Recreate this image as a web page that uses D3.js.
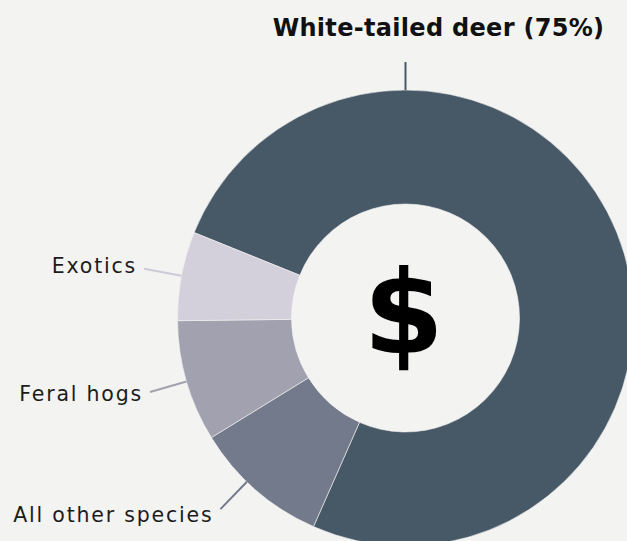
<!DOCTYPE html>
<html>
<head>
<meta charset="utf-8">
<script src="https://cdn.jsdelivr.net/npm/d3@7"></script>
<style>
  html, body { margin: 0; padding: 0; background: #f3f3f1; }
  svg { display: block; }
</style>
</head>
<body>
<div id="chart"></div>
<script>
  // shares of hunting spend
  var species = ["White-tailed deer", "All other species", "Feral hogs", "Exotics"]
  var shares = [75.5, 9.6, 8.6, 6.3]
  var labels = ["White-tailed deer (75%)", "All other species", "Feral hogs", "Exotics"]
  var colors = ["#475867", "#737a8b", "#a2a1b0", "#d3cfdb"]
  var lineColors = ["#475867", "#737a8b", "#a2a1b0", "#cfcad8"]

  var width = 627
  var height = 541
  var cx = 405.5, cy = 318
  var outerR = 228, innerR = 114
  var startAngle = -68 * Math.PI / 180
  var labelNudge = [0, 3, 0, 0] // degrees, hand tweak of leader angle

  var data = species.map(function(s, i){
    return { name: s, value: shares[i], label: labels[i], color: colors[i], lineColor: lineColors[i], nudge: labelNudge[i] }
  })

  var svg = d3.select("#chart")
    .append("svg")
      .attr("width", width)
      .attr("height", height)

  var g = svg.append("g")
    .attr("transform", "translate(" + cx + "," + cy + ")")

  var pie = d3.pie()
    .sort(null)
    .value(function(d){ return d.value })
    .startAngle(startAngle)
    .endAngle(startAngle + 2 * Math.PI)

  var arc = d3.arc()
    .innerRadius(innerR)
    .outerRadius(outerR)

  var arcs = pie(data)

  g.selectAll(".slice")
      .data(arcs)
      .enter()
    .append("path")
      .attr("class", "slice")
      .attr("d", arc)
      .attr("fill", function(d){ return d.data.color })
      .attr("stroke", "#f3f3f1")
      .attr("stroke-width", 0.6)

  var polar = function(angle, r){
    return [r * Math.sin(angle), -r * Math.cos(angle)]
  }

  // small species: radial leader at slice middle, label to the left
  var small = arcs.slice(1)
  small.forEach(function(d){
    var a = (d.startAngle + d.endAngle) / 2 + d.data.nudge * Math.PI / 180
    var p1 = polar(a, outerR)
    var p2 = polar(a, outerR + 38)
    g.append("line")
      .attr("x1", p1[0]).attr("y1", p1[1])
      .attr("x2", p2[0]).attr("y2", p2[1])
      .attr("stroke", d.data.lineColor)
      .attr("stroke-width", 2)
    // labels lower a bit further down the ring
    g.append("text")
      .attr("x", p2[0] - 7)
      .attr("y", p2[1] + 6 - 9.5 * Math.cos(a))
      .attr("text-anchor", "end")
      .attr("font-family", "DejaVu Sans")
      .attr("font-size", 20.5)
      .attr("letter-spacing", 1.8)
      .attr("fill", "#1c1c1c")
      .text(d.data.label)
  })

  // deer: leader straight up from the top of the ring
  var deer = arcs[0]
  var t1 = polar(0, outerR)
  var t2 = polar(0, outerR + 28)
  g.append("line")
    .attr("x1", t1[0]).attr("y1", t1[1])
    .attr("x2", t2[0]).attr("y2", t2[1])
    .attr("stroke", deer.data.lineColor)
    .attr("stroke-width", 2)
  g.append("text")
    .attr("x", t2[0] + 33)
    .attr("y", t2[1] - 26)
    .attr("text-anchor", "middle")
    .attr("font-family", "DejaVu Sans")
    .attr("font-weight", "bold")
    .attr("font-size", 24)
    .attr("letter-spacing", 0.3)
    .attr("fill", "#111")
    .text(deer.data.label)

  g.append("text")
    .attr("x", -2)
    .attr("y", 35)
    .attr("text-anchor", "middle")
    .attr("font-family", "DejaVu Sans")
    .attr("font-weight", "bold")
    .attr("font-size", 116)
    .attr("fill", "#000")
    .text("$")
</script>
</body>
</html>
